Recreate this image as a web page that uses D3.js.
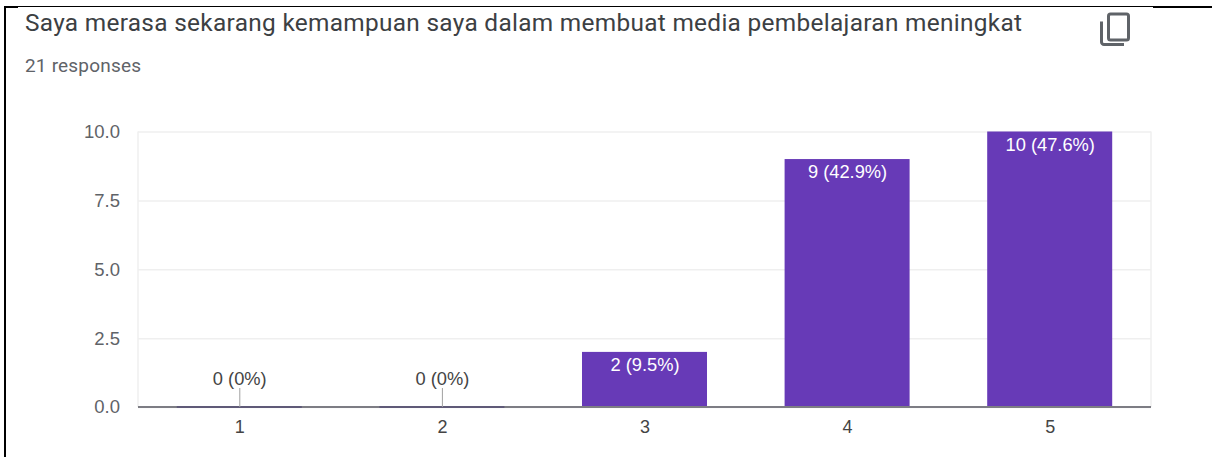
<!DOCTYPE html>
<html><head><meta charset="utf-8">
<script src="https://cdn.jsdelivr.net/npm/d3@7/dist/d3.min.js"></script>
<style>html,body{margin:0;padding:0;background:#fff;overflow:hidden}svg{display:block}</style>
</head><body><svg id="c" width="1212" height="457"></svg>
<script>
const categories = ["1","2","3","4","5"];
const values = [0,0,2,9,10];
const valueLabels = ["0 (0%)","0 (0%)","2 (9.5%)","9 (42.9%)","10 (47.6%)"];
const yTicks = [0,2.5,5,7.5,10];
const titleText = "Saya merasa sekarang kemampuan saya dalam membuat media pembelajaran meningkat";
const subtitleText = "21 responses";

const svg = d3.select("#c");
const font = "Roboto, Arial, sans-serif";
const chartFont = "'Liberation Sans', Arial, sans-serif";
const purple = "#673ab7";

// scanned-page frame
svg.append("path").attr("d","M5 457V6.5H1153").attr("fill","none").attr("stroke","#000").attr("stroke-width",1.2);
svg.append("rect").attr("x",4).attr("y",6).attr("width",2).attr("height",451).attr("fill","#000");
svg.append("rect").attr("x",5).attr("y",6).attr("width",13).attr("height",2).attr("fill","#000");
svg.append("rect").attr("x",1153).attr("y",6).attr("width",59).attr("height",2).attr("fill","#000");

svg.append("text").attr("x",25).attr("y",30.5).attr("font-family",font).attr("font-size",24.4)
  .attr("fill","#3c4043").attr("textLength",997).attr("lengthAdjust","spacing").text(titleText);
svg.append("text").attr("x",25).attr("y",72).attr("font-family",font).attr("font-size",19)
  .attr("fill","#5f6368").attr("textLength",116).attr("lengthAdjust","spacing").text(subtitleText);

// copy icon
const icon = svg.append("g").attr("fill","none").attr("stroke","#5f6368").attr("stroke-width",3);
icon.append("rect").attr("x",1108.5).attr("y",14).attr("width",20).attr("height",26).attr("rx",2);
icon.append("path").attr("d","M1101.5 21.5V42a2.5 2.5 0 0 0 2.5 2.5H1124");

const x = d3.scaleBand().domain(categories).range([138,1151]).paddingInner(0.383).paddingOuter(0.1915);
const y = d3.scaleLinear().domain([0,10]).range([407,131.5]);

const gy = svg.append("g").attr("transform","translate(138,0)")
  .call(d3.axisLeft(y).tickValues(yTicks).tickFormat(d3.format(".1f")).tickSize(-1013).tickPadding(18));
gy.select(".domain").remove();
gy.selectAll(".tick line").attr("stroke","#efefef").attr("stroke-width",1.5);
gy.selectAll(".tick text").attr("font-family",chartFont).attr("font-size",18.5).attr("fill","#5f6368");
svg.append("line").attr("x1",138).attr("x2",138).attr("y1",y(10)).attr("y2",y(0)).attr("stroke","#efefef").attr("stroke-width",1.5);
svg.append("line").attr("x1",1151).attr("x2",1151).attr("y1",y(10)).attr("y2",y(0)).attr("stroke","#efefef").attr("stroke-width",1.5);

svg.selectAll("rect.bar").data(categories).join("rect").attr("class","bar")
  .attr("x",d=>x(d)).attr("width",x.bandwidth())
  .attr("y",(d,i)=>y(values[i])).attr("height",(d,i)=>y(0)-y(values[i]))
  .attr("fill",purple);

// baseline
svg.append("line").attr("x1",138).attr("x2",1151).attr("y1",y(0)).attr("y2",y(0)).attr("stroke","#7d7d84").attr("stroke-width",2);
svg.selectAll("line.zero").data(categories.filter((d,i)=>values[i]===0)).join("line").attr("class","zero")
  .attr("x1",d=>x(d)).attr("x2",d=>x(d)+x.bandwidth()).attr("y1",y(0)).attr("y2",y(0))
  .attr("stroke","#5f5a78").attr("stroke-width",2);

const gx = svg.append("g").attr("transform",`translate(0.5,${y(0)})`)
  .call(d3.axisBottom(x).tickSize(0).tickPadding(13));
gx.select(".domain").remove();
gx.selectAll(".tick text").attr("font-family",chartFont).attr("font-size",18).attr("fill","#444");

// data labels
categories.forEach((c,i)=>{
  const cx = x(c)+x.bandwidth()/2+0.5;
  if(values[i]===0){
    svg.append("line").attr("x1",cx).attr("x2",cx).attr("y1",y(0)-19).attr("y2",y(0)).attr("stroke","#a0a0a0").attr("stroke-width",1);
    svg.append("text").attr("x",cx).attr("y",y(0)-22).attr("text-anchor","middle")
      .attr("font-family",chartFont).attr("font-size",18.3).attr("fill","#444").text(valueLabels[i]);
  } else {
    svg.append("text").attr("x",cx).attr("y",y(values[i])+19).attr("text-anchor","middle")
      .attr("font-family",chartFont).attr("font-size",18.3).attr("fill","#fff").text(valueLabels[i]);
  }
});
</script></body></html>
